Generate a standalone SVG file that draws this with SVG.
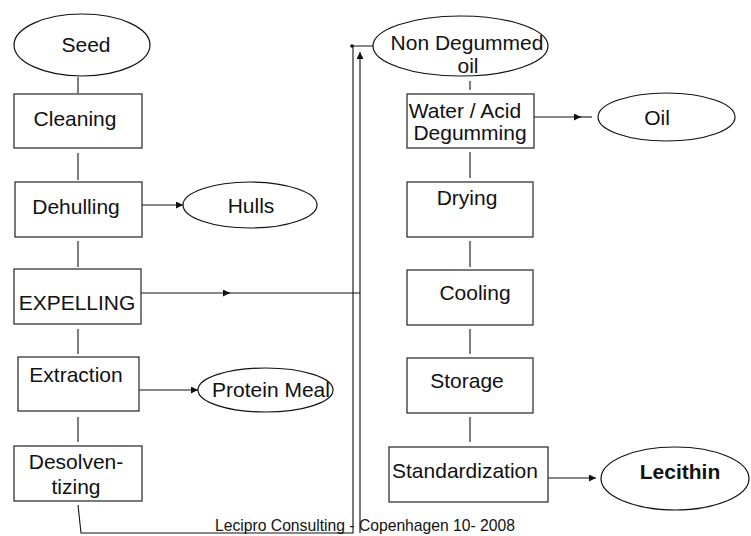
<svg xmlns="http://www.w3.org/2000/svg" width="751" height="536" viewBox="0 0 751 536">
<defs>
<style>
.box{fill:#fff;stroke:#333;stroke-width:1.3}
.ell{fill:#fff;stroke:#111;stroke-width:1.2}
.t{font-family:"Liberation Sans",Arial,sans-serif;font-size:21px;fill:#111;text-anchor:middle}
.b{font-weight:bold}
.c{fill:none;stroke:#111;stroke-width:1.1}
.f{font-family:"Liberation Sans",Arial,sans-serif;font-size:15.7px;fill:#111}
</style>
<marker id="ah" viewBox="0 0 10 10" refX="10" refY="5" markerWidth="9" markerHeight="7" markerUnits="userSpaceOnUse" orient="auto">
<path d="M0,0 L10,5 L0,10 z" fill="#111"/>
</marker>
</defs>
<g id="connectors">
<line class="c" x1="78" y1="77" x2="78" y2="93"/>
<line class="c" x1="78" y1="153" x2="78" y2="180"/>
<line class="c" x1="78" y1="241" x2="78" y2="267"/>
<line class="c" x1="78" y1="329" x2="78" y2="354"/>
<line class="c" x1="78" y1="417" x2="78" y2="442"/>
<line class="c" x1="470" y1="81" x2="470" y2="90"/>
<line class="c" x1="470" y1="152" x2="470" y2="178"/>
<line class="c" x1="470" y1="241" x2="470" y2="267"/>
<line class="c" x1="470" y1="329" x2="470" y2="354"/>
<line class="c" x1="470" y1="417" x2="470" y2="442"/>
<line class="c" x1="142" y1="205" x2="183" y2="205" marker-end="url(#ah)"/>
<line class="c" x1="139" y1="390" x2="198" y2="390" marker-end="url(#ah)"/>
<line class="c" x1="141" y1="293" x2="230" y2="293" marker-end="url(#ah)"/>
<line class="c" x1="228" y1="293" x2="360" y2="293"/>
<line class="c" x1="534" y1="117" x2="581" y2="117" marker-end="url(#ah)"/>
<line class="c" x1="579" y1="117" x2="592" y2="117"/>
<line class="c" x1="537" y1="478" x2="596" y2="478" marker-end="url(#ah)"/>
<polyline class="c" points="78,505 81,533 353,533 353,46 383,46" marker-end="url(#ah)"/>
<circle cx="352" cy="46" r="1.8" fill="#111"/>
<line class="c" x1="360" y1="533" x2="360" y2="52" marker-end="url(#ah)"/>
</g>
<g id="seed"><ellipse class="ell" cx="82" cy="45" rx="68" ry="31"/><text class="t" x="86" y="52">Seed</text></g>
<g id="cleaning"><rect class="box" x="14" y="94" width="128" height="54"/><text class="t" x="75" y="126">Cleaning</text></g>
<g id="dehulling"><rect class="box" x="15" y="182" width="127" height="55"/><text class="t" x="76" y="214">Dehulling</text></g>
<g id="hulls"><ellipse class="ell" cx="250" cy="205" rx="67" ry="23"/><text class="t" x="251" y="213">Hulls</text></g>
<g id="expelling"><rect class="box" x="14" y="269" width="127" height="55"/><text class="t" x="77" y="310">EXPELLING</text></g>
<g id="extraction"><rect class="box" x="18" y="357" width="121" height="54"/><text class="t" x="76" y="382">Extraction</text></g>
<g id="protein-meal"><ellipse class="ell" cx="265.5" cy="390" rx="67.5" ry="22"/><text class="t" x="271" y="397">Protein Meal</text></g>
<g id="desolventizing"><rect class="box" x="14" y="446" width="128" height="55"/><text class="t" x="76" y="469">Desolven-</text><text class="t" x="76" y="494">tizing</text></g>
<g id="non-degummed-oil"><ellipse class="ell" cx="460.5" cy="46" rx="87.5" ry="30"/><text class="t" x="467" y="50">Non Degummed</text><text class="t" x="468" y="73">oil</text></g>
<g id="degumming"><rect class="box" x="407" y="94" width="127" height="54"/><text class="t" x="465" y="118">Water / Acid</text><text class="t" x="470" y="140">Degumming</text></g>
<g id="oil"><ellipse class="ell" cx="666.5" cy="117" rx="68.5" ry="24"/><text class="t" x="657" y="125">Oil</text></g>
<g id="drying"><rect class="box" x="407" y="182" width="126" height="55"/><text class="t" x="467" y="205">Drying</text></g>
<g id="cooling"><rect class="box" x="407" y="270" width="126" height="55"/><text class="t" x="475" y="300">Cooling</text></g>
<g id="storage"><rect class="box" x="407" y="358" width="126" height="55"/><text class="t" x="467" y="388">Storage</text></g>
<g id="standardization"><rect class="box" x="389" y="447" width="159" height="55"/><text class="t" x="465" y="478">Standardization</text></g>
<g id="lecithin"><ellipse class="ell" cx="675" cy="478.5" rx="74" ry="31.5"/><text class="t b" x="680" y="479">Lecithin</text></g>
<text class="f" x="215" y="531">Lecipro Consulting - Copenhagen 10- 2008</text>
</svg>
